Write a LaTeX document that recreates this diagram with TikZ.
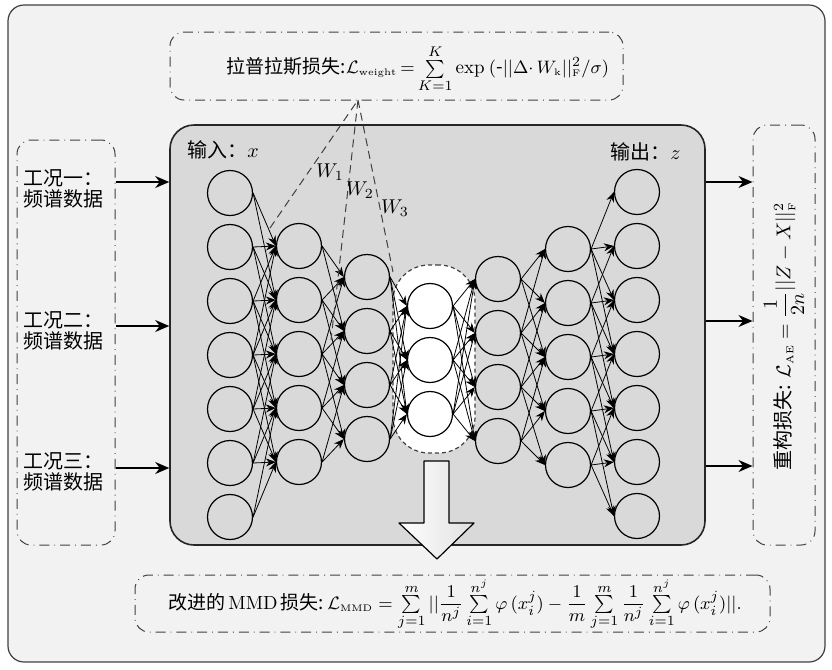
\documentclass[tikz,border=0pt]{standalone}
\usepackage{fontspec}
\usepackage{amsmath}
\newfontfamily\cjk{Noto Sans CJK SC}
\usetikzlibrary{arrows.meta}
\definecolor{bgout}{HTML}{F2F2F2}
\definecolor{bgnet}{HTML}{D9D9D9}
\definecolor{edge}{HTML}{404040}
\newcommand{\tinysub}[1]{\mathrm{\scriptscriptstyle #1}}
\begin{document}
\begin{tikzpicture}[x=0.5pt,y=-0.5pt,>={Stealth[length=5pt,width=4pt]},line join=round,
    neuron/.style={circle,draw,line width=0.6pt,minimum size=22.5pt,inner sep=0pt},
    link/.style={->,line width=0.4pt},
    lossbox/.style={draw=edge,line width=0.5pt,rounded corners=7pt,dash pattern=on 5pt off 2.5pt on 0.4pt off 2.5pt,inner sep=0pt},
    side/.style={-{Stealth[length=7pt,width=6pt]},line width=0.6pt},
    txt/.style={font=\cjk\fontsize{10pt}{10.5pt}\selectfont,inner sep=1pt},
    losstxt/.style={font=\cjk\fontsize{9.5pt}{10pt}\selectfont,inner sep=1pt}]
\useasboundingbox (0,0) rectangle (832,670);
\draw[draw=edge,fill=bgout,rounded corners=8pt,line width=0.6pt] (8,5) rectangle (825,662);
% boxes
\node[draw=black!85,fill=bgnet,line width=0.8pt,rounded corners=12pt,minimum width=267.5pt,minimum height=210pt] (net) at (437.5,335) {};
\node[lossbox,minimum width=226.5pt,minimum height=34pt] (topbox) at (396.5,66) {};
\node[lossbox,minimum width=317.5pt,minimum height=28.5pt] (mmdbox) at (452.5,603.5) {};
\node[lossbox,minimum width=49pt,minimum height=202.5pt] (inbox) at (66,342.5) {};
\node[lossbox,minimum width=31pt,minimum height=210pt] (aebox) at (784,335) {};
\node[draw=edge,fill=white,dash pattern=on 2pt off 1.5pt,line width=0.6pt,rounded corners=18pt,minimum width=41pt,minimum height=94pt] (code) at (434,359) {};
% texts
\node[losstxt] (toptxt) at (418,69) {拉普拉斯损失:$\mathcal{L}_{\tinysub{weight}}\,{=}\sum\limits_{K=1}^{K}\exp\ (\text{-}||\Delta{\cdot}\,W_{\tinysub{k}}||_{\tinysub{F}}^{2}/\sigma)$};
\node[losstxt] (mmdtxt) at (455,604) {改进的\,\textrm{MMD}\,损失:\,$\mathcal{L}_{\tinysub{MMD}}=\sum\limits_{j=1}^{m}||\dfrac{1}{n^{j}}\sum\limits_{i=1}^{n^{j}}\varphi\,(x_{i}^{j})-\dfrac{1}{m}\sum\limits_{j=1}^{m}\dfrac{1}{n^{j}}\sum\limits_{i=1}^{n^{j}}\varphi\,(x_{i}^{j})||.$};
\node[txt,rotate=90] (aetxt) at (784,336) {重构损失: $\mathcal{L}_{\tinysub{AE}}=\dfrac{1}{2n}||Z-X||_{\tinysub{F}}^{2}$};
\node[txt,align=left] (case1) at (64,189) {工况一：\\频谱数据};
\node[txt,align=left] (case2) at (64,331) {工况二：\\频谱数据};
\node[txt,align=left] (case3) at (64,472) {工况三：\\频谱数据};
\node[txt,anchor=west] (inlab) at (185,150) {输入：$x$};
\node[txt,anchor=west] (outlab) at (608,152) {输出：$z$};
% neurons
\foreach \l/\n/\xx/\cy/\fc in {1/7/230/355/none,2/5/299/354/none,3/4/367/358/none,4/3/430/360/white,5/4/498/360/none,6/5/568/357/none,7/7/637/354/none}
  \foreach \k in {1,...,\n}
    \node[neuron,fill=\fc] (n\l-\k) at (\xx,{\cy+54*(\k-(\n+1)/2)}) {};
% links between neighbouring layers
\foreach \a/\na/\ca/\b/\nb/\cb/\thr in {1/7/355/2/5/354/110,2/5/354/3/4/358/110,3/4/358/4/3/360/300,4/3/360/5/4/360/300,5/4/360/6/5/357/110,6/5/357/7/7/354/110}
  \foreach \i in {1,...,\na}
    \foreach \j in {1,...,\nb}{
      \pgfmathtruncatemacro\ok{abs(\ca+54*(\i-(\na+1)/2)-\cb-54*(\j-(\nb+1)/2))<\thr}
      \ifnum\ok=1 \draw[link] (n\a-\i.east) -- (n\b-\j.west);\fi
    }
% weights
\coordinate (apex) at (358,100);
\coordinate (w1) at (270,228);
\coordinate (w2) at (331,340);
\coordinate (w3) at (393,272);
\draw[edge,dash pattern=on 4pt off 2.5pt,line width=0.5pt] (w1) -- (apex) -- (w2) (apex) -- (w3);
\node (w1lab) at (330,172) {$W_1$};
\node (w2lab) at (360,190) {$W_2$};
\node (w3lab) at (395,208) {$W_3$};
% inputs and outputs
\foreach \yy/\ry [count=\c] in {182/182,326/321,468/466}{
  \coordinate (l\c) at (0,\yy);
  \coordinate (r\c) at (0,\ry);
  \draw[side] (inbox.east |- l\c) -- (net.west |- l\c);
  \draw[side] (net.east |- r\c) -- (aebox.west |- r\c);
}
% down arrow
\shadedraw[left color=white,right color=black!12,draw=black,line width=0.6pt] (424,461) -- (449,461) -- (449,523) -- (474,523) -- (437,559) -- (399,523) -- (424,523) -- cycle;
\end{tikzpicture}
\end{document}
